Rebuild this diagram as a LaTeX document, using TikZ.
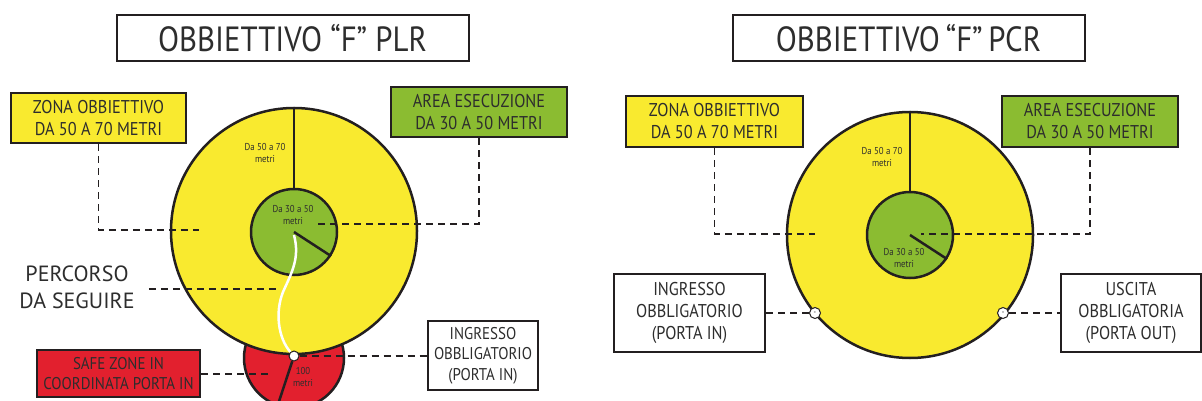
\documentclass[tikz,border=0pt]{standalone}
\usepackage{fontspec}
\setmainfont{PT Sans}
\newfontfamily\condfont{PT Sans}[FakeStretch=0.88]
\definecolor{zoneyellow}{RGB}{249,234,47}
\definecolor{zonegreen}{RGB}{139,188,49}
\definecolor{zonered}{RGB}{226,32,46}
\definecolor{inkgray}{RGB}{35,31,32}
\definecolor{textgray}{RGB}{45,45,45}
\begin{document}
\begin{tikzpicture}
  [
  x=1pt,y=-1pt,
  titlebox/.style={rectangle,draw=inkgray,line width=2pt,minimum width=352pt,minimum height=46pt,text=textgray,font=\condfont\fontsize{35}{38}\selectfont},
  labelbox/.style={rectangle,draw=inkgray,line width=2.5pt,align=center,inner sep=0pt,text=textgray,font=\condfont\fontsize{18.5}{22}\selectfont},
  zone/.style={circle,draw=inkgray,line width=2.5pt,inner sep=0pt},
  gate/.style={circle,draw=inkgray,fill=white,line width=1pt,inner sep=0pt,minimum size=11pt,font=\fontsize{7}{7}\selectfont},
  smalltext/.style={align=center,text=textgray,font=\condfont\fontsize{10}{12}\selectfont},
  guide/.style={draw=inkgray,line width=1.3pt,dash pattern=on 7pt off 5pt},
  spoke/.style={draw=inkgray,line width=2.5pt}
  ]
  \useasboundingbox (0,0) rectangle (1202,401);

  % PLR
  \node (Ltitle) at (292.5,38.5) [titlebox] {OBBIETTIVO “F” PLR};
  \node (Lzone) at (98.5,118) [labelbox,fill=zoneyellow,minimum width=175pt,minimum height=50pt] {ZONA OBBIETTIVO\\DA 50 A 70 METRI};
  \node (Larea) at (479,112) [labelbox,fill=zonegreen,minimum width=176pt,minimum height=50pt] {AREA ESECUZIONE\\DA 30 A 50 METRI};
  \node (Lsafe) at (118.5,373.5) [labelbox,fill=zonered,minimum width=163pt,minimum height=47pt,font=\condfont\fontsize{17}{20}\selectfont] {SAFE ZONE IN\\COORDINATA PORTA IN};
  \node (Lin) at (483,355.5) [labelbox,fill=white,minimum width=110pt,minimum height=69pt,font=\condfont\fontsize{17}{20.5}\selectfont] {INGRESSO\\OBBLIGATORIO\\(PORTA IN)};
  \node (Lpath) at (77,287) [align=center,text=textgray,font=\fontsize{22}{27}\selectfont,inner sep=0pt] {PERCORSO\\DA SEGUIRE};

  \node (Lred) at (294,358) [zone,fill=zonered,minimum size=100pt] {};
  \node (Lbig) at (294,231) [zone,fill=zoneyellow,minimum size=246pt] {};
  \node (Lgreen) at (294,232) [zone,fill=zonegreen,minimum size=86pt] {};

  \node (Louter) at (265,153) [smalltext] {Da 50 a 70\\metri};
  \node (Linner) at (293,215) [smalltext] {Da 30 a 50\\metri};
  \node (Lsafety) at (303,377) [smalltext] {100\\metri};

  \coordinate (Lzoneend) at (199,230);
  \coordinate (Lareaend) at (313,224);
  \coordinate (Lpathend) at (279,289);
  \coordinate (Lsafeend) at (269,374);

  \draw [guide] (Lzone.south) |- (Lzoneend);
  \draw [guide] (Larea.south) |- (Lareaend);
  \draw [guide] ([xshift=14pt]Lpath.east |- Lpathend) to (Lpathend);
  \draw [guide] (Lsafe.east |- Lsafeend) to (Lsafeend);

  \node (Ldot) at (294,356) [gate,minimum size=10pt] {};
  \draw [spoke] (Lbig.north) to (Lgreen.north);
  \draw [spoke] (Lgreen.center) to (Lgreen.-33);
  \draw [spoke] (Ldot) to (Lred.-109);
  \draw [white,line width=2.5pt] (294,235) .. controls (300,258) and (292,272) .. (283,292)
    .. controls (275,312) and (278,338) .. (Ldot);
  \draw [guide] (Ldot.east) to (Ldot -| Lin.west);

  % PCR
  \node (Rtitle) at (908.5,38.5) [titlebox] {OBBIETTIVO\,“F”\,PCR};
  \node (Rzone) at (714.5,121.5) [labelbox,fill=zoneyellow,minimum width=177pt,minimum height=51pt] {ZONA OBBIETTIVO\\DA 50 A 70 METRI};
  \node (Rarea) at (1090,121.5) [labelbox,fill=zonegreen,minimum width=176pt,minimum height=51pt] {AREA ESECUZIONE\\DA 30 A 50 METRI};
  \node (Rin) at (689.5,313) [labelbox,fill=white,minimum width=151pt,minimum height=78pt] {INGRESSO\\OBBLIGATORIO\\(PORTA IN)};
  \node (Rout) at (1131,313) [labelbox,fill=white,minimum width=140pt,minimum height=78pt] {USCITA\\OBBLIGATORIA\\(PORTA OUT)};

  \node (Rbig) at (910,235) [zone,fill=zoneyellow,minimum size=246pt] {};
  \node (Rgreen) at (910,235) [zone,fill=zonegreen,minimum size=86pt] {};

  \node (Router) at (882,157) [smalltext] {Da 50 a 70\\metri};
  \node (Rinner) at (904,258) [smalltext] {Da 30 a 50\\metri};

  \coordinate (Rzoneend) at (815,234);
  \coordinate (Rareaend) at (921,234);

  \draw [spoke] (Rbig.north) to (Rgreen.north);
  \draw [spoke] (Rgreen.center) to (Rgreen.-33);
  \draw [guide] (Rzone.south) |- (Rzoneend);
  \draw [guide] (Rarea.south) |- (Rareaend);

  \node (Rgatein) at (815,313) [gate] {-};
  \node (Rgateout) at (1003,313) [gate] {-};
  \draw [guide] (Rin.east) to (Rgatein.west);
  \draw [guide] (Rgateout.east) to (Rout.west);
\end{tikzpicture}
\end{document}
